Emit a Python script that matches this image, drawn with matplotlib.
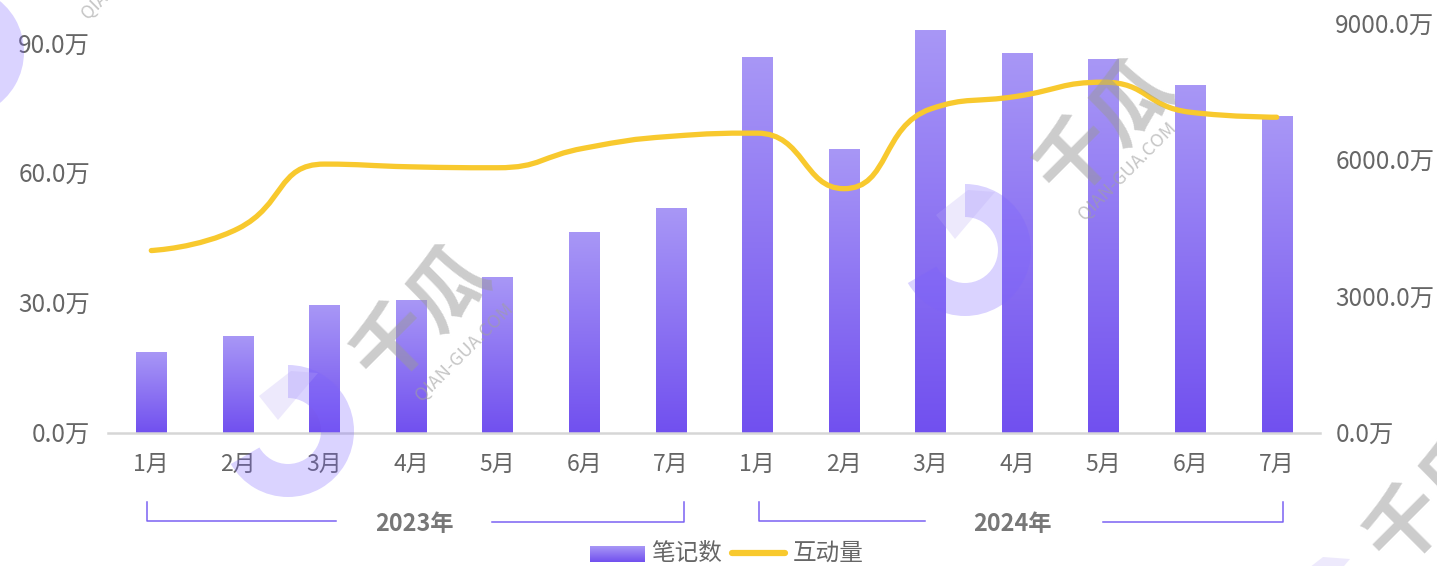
import numpy as np
import matplotlib.pyplot as plt
from matplotlib.path import Path
from matplotlib.patches import PathPatch, Wedge, Polygon
from matplotlib.colors import LinearSegmentedColormap
from matplotlib.lines import Line2D

plt.rcParams['font.family'] = ['Noto Sans CJK SC', 'DejaVu Sans']

# data
months = ['1月', '2月', '3月', '4月', '5月', '6月', '7月',
          '1月', '2月', '3月', '4月', '5月', '6月', '7月']
years = ['2023年', '2024年']
notes = [18.7, 22.2, 29.5, 30.5, 36.0, 46.4, 51.9,
         86.8, 65.5, 93.0, 87.7, 86.3, 80.3, 73.2]          # 万
interact = [4010, 4490, 5910, 5850, 5830, 6260, 6520,
            6590, 5370, 7120, 7400, 7710, 7050, 6940]      # 万
left_ticks = [0, 30, 60, 90]
right_ticks = [0, 3000, 6000, 9000]

W, H = 1437, 566
fig = plt.figure(figsize=(W / 100, H / 100), dpi=100)
ax = fig.add_axes([108 / W, 1 - 433 / H, (1320 - 108) / W, 433 / H])
ax2 = ax.twinx()

bar_cmap = LinearSegmentedColormap.from_list('bar', ['#7150EF', '#A897F6'])
grad = np.linspace(0, 1, 256).reshape(-1, 1)

x = np.arange(len(months))
bw = 0.35
for xi, v in zip(x, notes):
    ax.imshow(grad, extent=[xi - bw / 2, xi + bw / 2, 0, v], origin='lower',
              aspect='auto', cmap=bar_cmap, zorder=2)

ax.set_xlim(-0.5, len(months) - 0.5)
ax.set_ylim(0, 100)
ax2.set_ylim(0, 433 / 136.5 * 3000)


def clamp(v, a, b):
    return min(max(v, min(a, b)), max(a, b))


# smooth line, same control point rule as echarts (smooth=0.5, clamped)
sx, sy = 86.6, 136.5 / 3000
px = x * sx
py = np.array(interact) * sy
n = len(px)
smooth = 0.5
cin = [(px[0], py[0])] * n
cout = [(px[0], py[0])] * n
for i in range(n):
    if i == 0 or i == n - 1:
        cin[i] = cout[i] = (px[i], py[i])
        continue
    vx, vy = px[i + 1] - px[i - 1], py[i + 1] - py[i - 1]
    l0 = np.hypot(px[i] - px[i - 1], py[i] - py[i - 1])
    l1 = np.hypot(px[i + 1] - px[i], py[i + 1] - py[i])
    r = l1 / (l0 + l1)
    nx, ny = px[i] + vx * smooth * r, py[i] + vy * smooth * r
    nx, ny = clamp(nx, px[i], px[i + 1]), clamp(ny, py[i], py[i + 1])
    vx, vy = nx - px[i], ny - py[i]
    cx, cy = px[i] - vx * l0 / l1, py[i] - vy * l0 / l1
    cx, cy = clamp(cx, px[i - 1], px[i]), clamp(cy, py[i - 1], py[i])
    vx, vy = px[i] - cx, py[i] - cy
    nx, ny = px[i] + vx * l1 / l0, py[i] + vy * l1 / l0
    cin[i] = (cx, cy)
    cout[i] = (nx, ny)
verts = [(px[0], py[0])]
codes = [Path.MOVETO]
for i in range(1, n):
    verts += [cout[i - 1], cin[i], (px[i], py[i])]
    codes += [Path.CURVE4] * 3
verts = [(a / sx, b / sy) for a, b in verts]
ax2.add_patch(PathPatch(Path(verts, codes), facecolor='none', edgecolor='#F8C92E',
                        lw=3.8, capstyle='round', zorder=5))

for a in (ax, ax2):
    for s in a.spines.values():
        s.set_visible(False)
    a.tick_params(length=0, labelsize=17.5, labelcolor='#666666')
ax.spines['bottom'].set_visible(True)
ax.spines['bottom'].set_color('#D6D6D6')
ax.spines['bottom'].set_linewidth(1.8)

ax.set_yticks(left_ticks)
ax.set_yticklabels([f'{v:.1f}万' for v in left_ticks])
ax.tick_params(axis='y', pad=13)
ax2.set_yticks(right_ticks)
ax2.set_yticklabels([f'{v:.1f}万' for v in right_ticks])
ax2.tick_params(axis='y', pad=11)
ax.set_xticks(x)
ax.set_xticklabels(months)
ax.tick_params(axis='x', pad=14, labelsize=16.5)


def fx(p):
    return p / W


def fy(p):
    return 1 - p / H


# year brackets
bcol = '#7B62F2'
brackets = [(147, 336, 492, 684, 415), (759, 925, 1103, 1283, 1013)]
for (x0, x1, x2, x3, xt), yr in zip(brackets, years):
    fig.add_artist(Line2D([fx(x0), fx(x0), fx(x1)], [fy(502), fy(521), fy(521)],
                          color=bcol, lw=1.1))
    fig.add_artist(Line2D([fx(x2), fx(x3), fx(x3)], [fy(522), fy(522), fy(502)],
                          color=bcol, lw=1.1))
    fig.text(fx(xt), fy(524), yr, ha='center', va='center', fontsize=16.8,
             fontweight='bold', color='#777777')

# legend
lax = fig.add_axes([590 / W, 1 - 562 / H, 55 / W, 16 / H])
lax.imshow(grad, extent=[0, 1, 0, 1], origin='lower', aspect='auto', cmap=bar_cmap)
lax.axis('off')
fig.text(fx(651), fy(553), '笔记数', ha='left', va='center', fontsize=17, color='#666666')
fig.add_artist(Line2D([fx(732), fx(785)], [fy(553), fy(553)], color='#F8C92E',
                      lw=4.5, solid_capstyle='round'))
fig.text(fx(793), fy(553), '互动量', ha='left', va='center', fontsize=17, color='#666666')

# watermark logos and text, in pixel coordinates
ov = fig.add_axes([0, 0, 1, 1], zorder=3)
ov.set_xlim(0, W)
ov.set_ylim(H, 0)
ov.axis('off')


def diamond(cx, cy):
    return Polygon([(cx - 29, cy - 35), (cx + 3, cy - 60), (cx + 30, cy - 58),
                    (cx - 10, cy - 11)], closed=True, facecolor='#B9A9F5',
                   alpha=0.25, lw=0)


for cx, cy in [(288, 431), (965, 250), (-42, 52)]:
    ov.add_patch(Wedge((cx, cy), 66, -90, 150, width=33, facecolor='#7B61FF',
                       alpha=0.28, lw=0))
    ov.add_patch(diamond(cx, cy))
ov.add_patch(diamond(1320, 617))
for wx, wy in [(422, 316), (1105, 130), (1435, 498)]:
    ov.text(wx, wy, '千瓜', rotation=45, ha='center', va='center', fontsize=57,
            fontweight='bold', color='#9A9A9A', alpha=0.5)
for wx, wy in [(464, 352), (1127, 171), (130, -30)]:
    ov.text(wx, wy, 'QIAN-GUA.COM', rotation=45, ha='center', va='center',
            fontsize=13, color='#A0A0A0', alpha=0.6)

fig.savefig('out.png', dpi=100)
